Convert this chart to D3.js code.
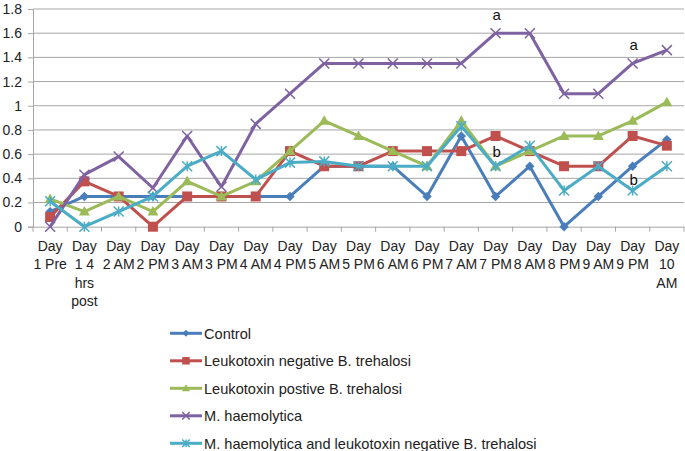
<!DOCTYPE html>
<html><head><meta charset="utf-8">
<script src="https://cdn.jsdelivr.net/npm/d3@7"></script>
<style>body{margin:0;background:#fff}svg{display:block;font-family:"Liberation Sans",Arial,sans-serif}</style>
</head><body><svg id="c" width="685" height="451"></svg>
<script>
const categories = ["Day 1 Pre","Day 1 4 hrs post","Day 2 AM","Day 2 PM","Day 3 AM","Day 3 PM","Day 4 AM","Day 4 PM","Day 5 AM","Day 5 PM","Day 6 AM","Day 6 PM","Day 7 AM","Day 7 PM","Day 8 AM","Day 8 PM","Day 9 AM","Day 9 PM","Day 10 AM"];
const control = [0.125,0.25,0.25,0.25,0.25,0.25,0.25,0.25,0.5,0.5,0.5,0.25,0.75,0.25,0.5,0,0.25,0.5,0.72];
const lktNeg = [0.08,0.375,0.25,0,0.25,0.25,0.25,0.625,0.5,0.5,0.625,0.625,0.625,0.75,0.625,0.5,0.5,0.75,0.67];
const lktPos = [0.23,0.125,0.25,0.125,0.375,0.25,0.375,0.625,0.875,0.75,0.625,0.5,0.875,0.5,0.625,0.75,0.75,0.875,1.03];
const mHaem = [0,0.43,0.58,0.32,0.75,0.33,0.85,1.1,1.35,1.35,1.35,1.35,1.35,1.6,1.6,1.1,1.1,1.35,1.46];
const mHaemLktNeg = [0.21,0,0.125,0.25,0.5,0.625,0.39,0.53,0.54,0.5,0.5,0.5,0.83,0.5,0.67,0.3,0.5,0.3,0.5];
const seriesNames = ["Control","Leukotoxin negative B. trehalosi","Leukotoxin postive B. trehalosi","M. haemolytica","M. haemolytica and leukotoxin negative B. trehalosi"];
const yTicks = [0,0.2,0.4,0.6,0.8,1,1.2,1.4,1.6,1.8];
const annotations = [{s:3,i:13,t:"a"},{s:3,i:17,t:"a"},{s:4,i:13,t:"b"},{s:4,i:17,t:"b"}];

const allValues = [control,lktNeg,lktPos,mHaem,mHaemLktNeg];
const colors = ["#4a7ebb","#c0504d","#9bbb59","#7f62a1","#4bacc6"];
const markers = ["diamond","square","triangle","x","star"];

const svg = d3.select("#c");
const L=33,R=684,T=9,B=226.7;
const x = d3.scaleBand().domain(categories).range([L,R]);
const y = d3.scaleLinear().domain([0,1.8]).range([B,T]);
const grid="#a6a6a6";

// gridlines
svg.append("g").selectAll("line").data(yTicks.filter(d=>d>0)).join("line")
  .attr("x1",L).attr("x2",R).attr("y1",d=>y(d)).attr("y2",d=>y(d))
  .attr("stroke",grid).attr("stroke-width",1);

// y axis
const ya = svg.append("g").attr("transform",`translate(${L},0)`)
  .call(d3.axisLeft(y).tickValues(yTicks).tickFormat(d=>String(d)).tickSize(5).tickPadding(6));
ya.select(".domain").attr("stroke",grid);
ya.selectAll(".tick line").attr("stroke",grid);
ya.selectAll("text").attr("font-size","14px").attr("fill","#222").attr("font-family","Liberation Sans, Arial, sans-serif");

// x axis
const xa = svg.append("g").attr("transform",`translate(0,${B})`)
  .call(d3.axisBottom(x).tickSize(0).tickPadding(0));
xa.select(".domain").attr("stroke",grid);
xa.selectAll(".tick text").remove();
// boundary ticks
const bounds = categories.map((c)=>x(c)).concat([R]);
svg.append("g").selectAll("line").data(bounds).join("line")
  .attr("x1",d=>d).attr("x2",d=>d).attr("y1",B).attr("y2",B+5).attr("stroke",grid);

// wrapped category labels
const lab = svg.append("g").attr("font-size","14px").attr("fill","#222").attr("text-anchor","middle");
categories.forEach(c=>{
  const t = lab.append("text").attr("x",x(c)+x.bandwidth()/2).attr("y",250.5);
  const words = c.split(" ");
  let lines=[], cur="";
  const meas = lab.append("text").attr("visibility","hidden");
  words.forEach(w=>{
    const test = cur? cur+" "+w : w;
    meas.text(test);
    if (cur && meas.node().getComputedTextLength() > 34.5) { lines.push(cur); cur=w; } else cur=test;
  });
  lines.push(cur); meas.remove();
  lines.forEach((ln,k)=>t.append("tspan").attr("x",x(c)+x.bandwidth()/2).attr("y",250.5+k*18.5).text(ln));
});

function markerPath(type, s){
  if(type==="diamond") return `M0,${-s}L${s},0L0,${s}L${-s},0Z`;
  if(type==="square") return `M${-s},${-s}H${s}V${s}H${-s}Z`;
  if(type==="triangle") return `M0,${-s*1.1}L${s*1.1},${s*0.8}L${-s*1.1},${s*0.8}Z`;
  if(type==="x") return `M${-s},${-s}L${s},${s}M${-s},${s}L${s},${-s}`;
  if(type==="star") return `M${-s},${-s}L${s},${s}M${-s},${s}L${s},${-s}M0,${-s}V${s}`;
}
const msize=[4.7,5,5,5,5];

const line = d3.line().x((d,i)=>x(categories[i])+x.bandwidth()/2).y(d=>y(d));
allValues.forEach((vals,si)=>{
  const g = svg.append("g");
  g.append("path").attr("d",line(vals)).attr("fill","none").attr("stroke",colors[si]).attr("stroke-width",3).attr("stroke-linejoin","round");
  const open = markers[si]==="x"||markers[si]==="star";
  g.selectAll("path.m").data(vals).join("path").attr("class","m")
    .attr("transform",(d,i)=>`translate(${x(categories[i])+x.bandwidth()/2},${y(d)})`)
    .attr("d",markerPath(markers[si],msize[si]))
    .attr("fill",open?"none":colors[si]).attr("stroke",colors[si]).attr("stroke-width",open?1.5:0);
});

// annotations
svg.append("g").selectAll("text").data(annotations).join("text")
  .attr("x",d=>x(categories[d.i])+x.bandwidth()/2+1)
  .attr("y",d=>y(allValues[d.s][d.i]) + (d.s===3? -13 : (d.i===13?-9:-5)))
  .attr("text-anchor","middle").attr("font-size","15px").attr("fill","#111").text(d=>d.t);

// legend
const lg = svg.append("g");
seriesNames.forEach((n,i)=>{
  const yy = 333.3 + i*27.5;
  lg.append("line").attr("x1",170).attr("x2",202).attr("y1",yy).attr("y2",yy).attr("stroke",colors[i]).attr("stroke-width",3);
  const open = markers[i]==="x"||markers[i]==="star";
  lg.append("path").attr("transform",`translate(186,${yy})`).attr("d",markerPath(markers[i],msize[i]*0.75))
    .attr("fill",open?"none":colors[i]).attr("stroke",colors[i]).attr("stroke-width",open?1.5:0);
  lg.append("text").attr("x",204).attr("y",yy).attr("dy","0.36em").attr("font-size","14.6px").attr("fill","#222").text(n);
});
</script></body></html>
